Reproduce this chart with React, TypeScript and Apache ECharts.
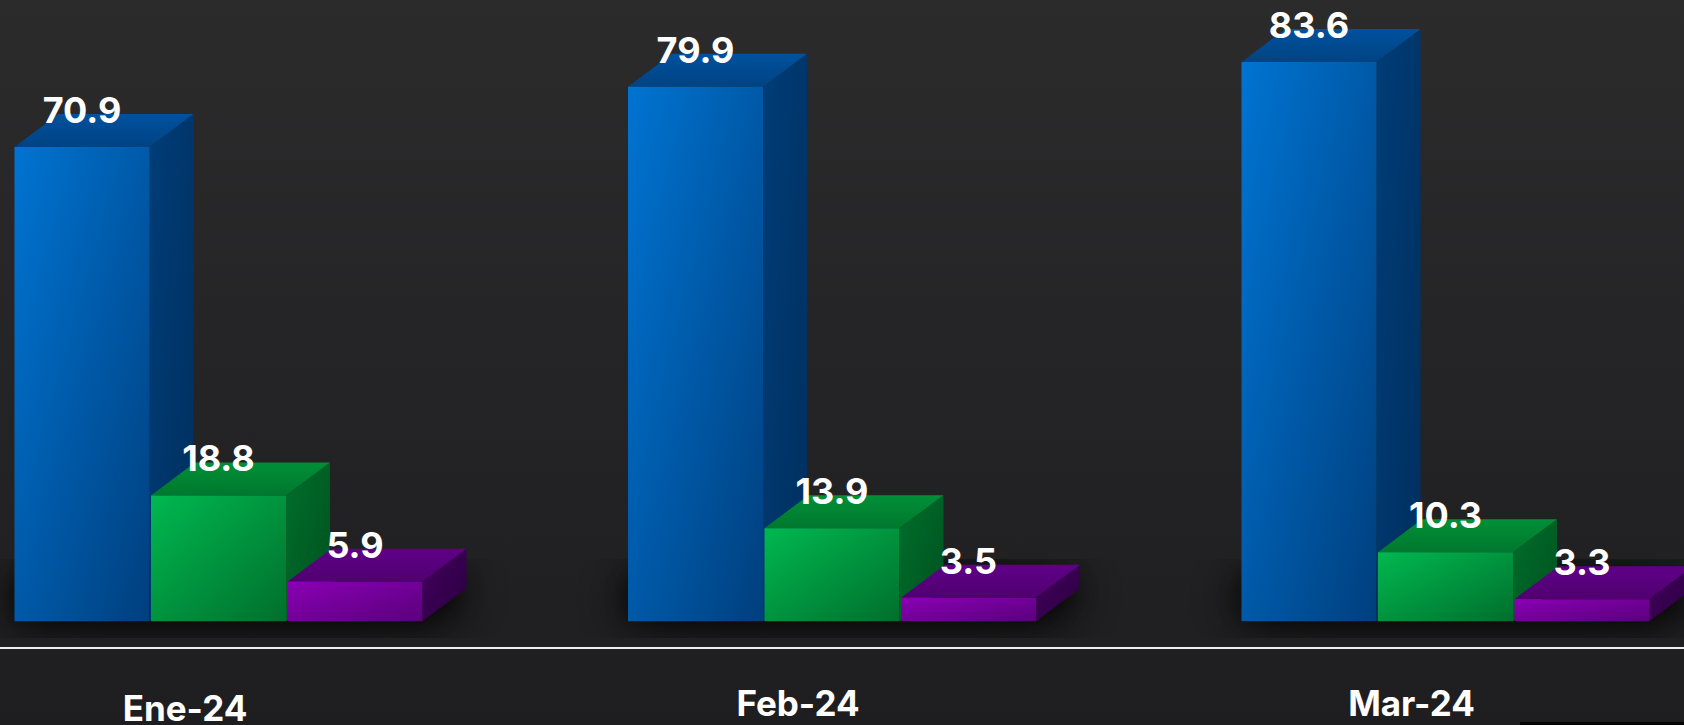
import React, { useEffect, useRef } from "react";
import * as echarts from "echarts";

const categories = ["Ene-24", "Feb-24", "Mar-24"];
const blueValues = [70.9, 79.9, 83.6];
const greenValues = [18.8, 13.9, 10.3];
const purpleValues = [5.9, 3.5, 3.3];

const BAR_W = 135;
const BAR_STEP = 136.5;
const DX = 44;
const DY = 33;
const FONT = "Inter, Roboto, sans-serif";

const grad = (x: number, y: number, x2: number, y2: number, a: string, b: string) =>
  new echarts.graphic.LinearGradient(x, y, x2, y2, [
    { offset: 0, color: a },
    { offset: 1, color: b },
  ]);

const palette = [
  { frontA: "#0074d2", frontB: "#003f7e", topA: "#004383", topB: "#00519f", sideA: "#003d78", sideB: "#002f5e" },
  { frontA: "#00b850", frontB: "#006f2c", topA: "#00782d", topB: "#008f38", sideA: "#006f2b", sideB: "#00501f" },
  { frontA: "#8a00b4", frontB: "#5a007c", topA: "#50006f", topB: "#5f0088", sideA: "#44005f", sideB: "#2a003f" },
];

const barSeries = (values: number[], idx: number) => ({
  type: "custom",
  name: String(idx),
  coordinateSystem: "cartesian2d",
  clip: false,
  silent: true,
  encode: { x: 0, y: 1 },
  data: values.map((v, i) => [i, v]),
  renderItem: (_p: any, api: any) => {
    const c = palette[idx];
    const v = api.value(1);
    const top = api.coord([api.value(0), v]);
    const base = api.coord([api.value(0), 0]);
    const x0 = top[0] + (idx - 1) * BAR_STEP - BAR_W / 2;
    const x1 = x0 + BAR_W;
    const yT = top[1];
    const yB = base[1];
    return {
      type: "group",
      children: [
        {
          type: "polygon",
          shape: { points: [[x1, yT], [x1 + DX, yT - DY], [x1 + DX, yB - DY], [x1, yB]] },
          style: { fill: grad(0, 0, 1, 1, c.sideA, c.sideB) },
        },
        {
          type: "polygon",
          shape: { points: [[x0, yT], [x0 + DX, yT - DY], [x1 + DX, yT - DY], [x1, yT]] },
          style: { fill: grad(0, 1, 0, 0, c.topA, c.topB) },
        },
        {
          type: "rect",
          shape: { x: x0, y: yT, width: BAR_W, height: yB - yT },
          style: { fill: grad(0, 0, 1, 1, c.frontA, c.frontB) },
        },
        {
          type: "text",
          style: {
            x: (x0 + x1) / 2,
            y: yT - 37,
            text: v.toFixed(1),
            fill: "#ffffff",
            font: `700 36px ${FONT}`,
            align: "center",
            verticalAlign: "middle",
          },
        },
      ],
    };
  },
});

const shadowBlurs = [30, 50, 70];

const shadowSeries = {
  type: "custom",
  coordinateSystem: "cartesian2d",
  clip: false,
  silent: true,
  encode: { x: 0, y: 1 },
  data: categories.map((_, i) => [i, 0]),
  renderItem: (_p: any, api: any) => {
    const p = api.coord([api.value(0), 0]);
    const yB = p[1];
    return {
      type: "group",
      children: shadowBlurs.map((b) => ({
        type: "polygon",
        shape: {
          points: [
            [p[0] - 200, yB - 36],
            [p[0] + 248, yB - 36],
            [p[0] + 216, yB - 10],
            [p[0] - 200, yB - 10],
          ],
        },
        style: { fill: "#000000", shadowBlur: b, shadowColor: "#000000" },
      })),
    };
  },
};

const labelPadding = [
  [5, 67, 0, 0],
  [0, 68, 0, 0],
  [0, 68, 0, 0],
];

export default function App() {
  const ref = useRef<HTMLDivElement>(null);
  useEffect(() => {
    const chart = echarts.init(ref.current!, undefined, { renderer: "svg" });
    chart.setOption({
      animation: false,
      backgroundColor: grad(0, 0, 0, 1, "#2b2b2c", "#1e1e20"),
      grid: { left: -88.25, width: 1840.5, top: 0, height: 648, outerBoundsMode: "none", containLabel: false },
      xAxis: {
        type: "category",
        data: categories.map((c, i) => ({ value: c, textStyle: { padding: labelPadding[i] } })),
        axisLine: { show: true, onZero: false, lineStyle: { color: "#eeeeee", width: 2 } },
        axisTick: { show: false },
        axisLabel: {
          color: "#ffffff",
          fontFamily: FONT,
          fontWeight: 700,
          fontSize: 35,
          margin: 41,
          lineHeight: 28,
          interval: 0,
        },
      },
      yAxis: { type: "value", min: -4, max: 92.86, show: false, splitLine: { show: false } },
      series: [shadowSeries, barSeries(blueValues, 0), barSeries(greenValues, 1), barSeries(purpleValues, 2)],
      graphic: [
        { type: "rect", right: 0, bottom: 0, shape: { width: 164, height: 3 }, style: { fill: "#050505" } },
      ],
    });
    return () => chart.dispose();
  }, []);
  return <div ref={ref} style={{ position: "absolute", left: 0, top: 0, width: 1684, height: 725 }} />;
}
